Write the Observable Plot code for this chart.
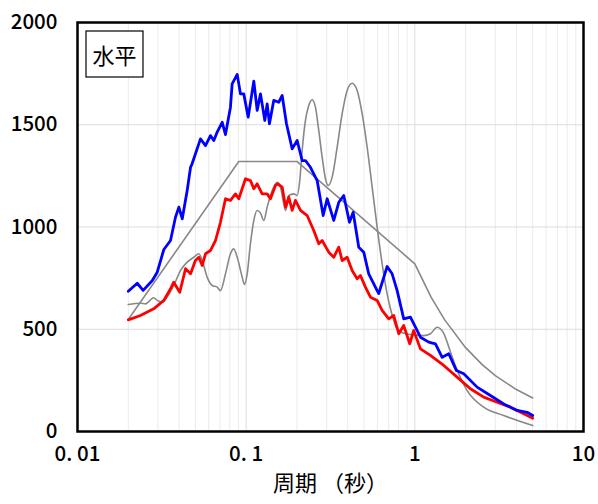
<!DOCTYPE html>
<html>
<head>
<meta charset="utf-8">
<script src="https://cdn.jsdelivr.net/npm/d3@7"></script>
<script src="https://cdn.jsdelivr.net/npm/@observablehq/plot@0.6"></script>
<style>
  body { margin: 0; background: #fff; }
  #chart { width: 598px; height: 504px; }
</style>
</head>
<body>
<div id="chart"></div>
<script>
// ---- data (period in seconds, acceleration) ----
const bluePeriod = [0.02,0.0226,0.0245,0.0277,0.0297,0.0325,0.0356,0.0381,0.0399,0.0418,0.0447,0.0468,0.0478,0.0536,0.0574,0.0614,0.0643,0.0673,0.0721,0.0754,0.0807,0.0826,0.0885,0.0925,0.0968,0.1028,0.111,0.1162,0.1216,0.129,0.1332,0.1374,0.1457,0.156,0.1635,0.1734,0.1874,0.2006,0.2148,0.2246,0.2405,0.2636,0.2861,0.3021,0.3306,0.354,0.3789,0.4096,0.4309,0.4651,0.4979,0.533,0.5977,0.611,0.6852,0.7335,0.7855,0.8596,0.9419,1.0795,1.209,1.325,1.452,1.589,1.765,1.95,2.34,2.806,3.365,4.04,4.63,5.0];
const blueValue = [686,725,690,737,779,890,934,1048,1097,1040,1178,1292,1309,1431,1398,1447,1423,1464,1512,1452,1586,1700,1746,1651,1651,1537,1713,1570,1651,1521,1602,1505,1619,1610,1643,1505,1382,1423,1325,1325,1292,1227,1056,1138,1032,1121,1154,1023,1072,901,877,771,689,675,807,771,689,551,559,461,437,429,363,380,298,282,217,176,135,103,94,78];

const redPeriod = [0.02,0.0236,0.0283,0.0325,0.0356,0.0372,0.0404,0.0437,0.0468,0.05,0.0524,0.0549,0.0574,0.0614,0.0658,0.0704,0.0754,0.0807,0.0864,0.0904,0.0991,0.106,0.111,0.1162,0.1244,0.1332,0.1393,0.1492,0.154,0.1635,0.1714,0.1789,0.1874,0.1959,0.21,0.23,0.2516,0.2694,0.2822,0.3087,0.3306,0.354,0.3708,0.397,0.4249,0.455,0.4759,0.5095,0.5456,0.5977,0.64,0.7,0.75,0.8029,0.8596,0.9329,0.985,1.0795,1.237,1.484,1.781,2.136,2.561,3.075,3.687,4.42,5.0];
const redValue = [546,567,600,641,698,730,681,796,771,836,852,812,869,885,934,1023,1138,1130,1162,1138,1236,1227,1187,1211,1162,1162,1138,1203,1211,1195,1097,1146,1081,1130,1081,1056,983,918,934,877,852,901,836,852,787,747,763,706,657,641,592,551,567,478,518,429,494,404,372,323,266,209,168,143,119,87,65];

const designPeriod = [0.02,0.0904,0.2006,1.0,1.25,1.5,2,2.5,3,4,5];
const designValue = [548,1320,1320,820,656,547,410,328,273,205,164];

const wavyPeriod = [0.02,0.0236,0.0253,0.0283,0.0297,0.0318,0.034,0.0372,0.0408,0.0447,0.0489,0.0524,0.0549,0.0587,0.0629,0.0673,0.0704,0.0754,0.0807,0.0844,0.0885,0.0947,0.0977,0.1014,0.106,0.111,0.1162,0.1216,0.1272,0.1332,0.1426,0.1527,0.1597,0.1714,0.1789,0.1915,0.2006,0.2078,0.2148,0.2246,0.235,0.2462,0.2575,0.2694,0.2822,0.2952,0.3063,0.3235,0.3463,0.3708,0.397,0.4249,0.455,0.4871,0.5216,0.5585,0.5977,0.64,0.6852,0.717,0.8029,0.9419,1.129,1.237,1.356,1.484,1.625,1.781,2.042,2.561,3.365,5.0];
const wavyValue = [621,627,624,654,641,632,657,714,787,828,852,869,836,755,714,706,689,771,869,893,852,755,719,771,918,1032,1081,1068,1032,1097,1178,1219,1195,1081,1154,1162,1154,1227,1374,1521,1594,1622,1586,1472,1341,1236,1203,1244,1390,1554,1668,1703,1668,1554,1390,1195,999,820,673,600,490,474,469,478,510,480,390,300,200,119,78,29];

const yTicks = [0, 500, 1000, 1500, 2000];
const xTicks = [0.01, 0.1, 1, 10];
const xTickLabels = ["0. 01", "0. 1", "1", "10"];
const minorX = [0.02,0.03,0.04,0.05,0.06,0.07,0.08,0.09,0.2,0.3,0.4,0.5,0.6,0.7,0.8,0.9,2,3,4,5,6,7,8,9];
const xTitle = "周期 （秒）";
const legendText = "水平";

const toRows = (P, V) => P.map((p, i) => ({period: p, value: V[i]}));
const blue = toRows(bluePeriod, blueValue);
const red = toRows(redPeriod, redValue);
const design = toRows(designPeriod, designValue);
const wavy = toRows(wavyPeriod, wavyValue);

const font = "'Noto Sans CJK JP', 'Noto Sans', sans-serif";

const chart = Plot.plot({
  width: 598,
  height: 504,
  marginLeft: 77,
  marginRight: 15,
  marginTop: 22,
  marginBottom: 73,
  style: {fontFamily: font, background: "#fff", overflow: "visible"},
  x: {type: "log", domain: [0.01, 10]},
  y: {domain: [0, 2000]},
  marks: [
    Plot.ruleX(minorX, {stroke: "#ebebeb", strokeWidth: 1}),
    Plot.ruleX(xTicks, {stroke: "#dcdcdc", strokeWidth: 1}),
    Plot.ruleY(yTicks, {stroke: "#dcdcdc", strokeWidth: 1}),
    Plot.line(design, {x: "period", y: "value", stroke: "#888888", strokeWidth: 1.6}),
    Plot.line(wavy, {x: "period", y: "value", stroke: "#888888", strokeWidth: 1.6, curve: "monotone-x"}),
    Plot.line(red, {x: "period", y: "value", stroke: "#ff0000", strokeWidth: 2.8}),
    Plot.line(blue, {x: "period", y: "value", stroke: "#0000ff", strokeWidth: 2.8}),
    Plot.frame({stroke: "#000", strokeWidth: 2.5}),
    Plot.axisY({ticks: yTicks, tickSize: 0, tickPadding: 20, fontSize: 20.5, fontWeight: 500, label: null, tickFormat: d => String(d)}),
    Plot.axisX({ticks: xTicks, tickSize: 0, tickPadding: 15, fontSize: 20.5, fontWeight: 500, label: null, tickFormat: d => xTickLabels[xTicks.indexOf(d)]}),
    Plot.text([xTitle], {frameAnchor: "bottom", dy: 59, fontSize: 22, fill: "#000"})
  ]
});

const svg = d3.select(chart);
svg.selectAll("text").attr("fill", "#000");
const g = svg.append("g");
g.append("rect").attr("x", 86).attr("y", 31).attr("width", 57).attr("height", 46)
  .attr("fill", "#fff").attr("stroke", "#000").attr("stroke-width", 1.2);
g.append("text").attr("x", 114.5).attr("y", 54).attr("text-anchor", "middle")
  .attr("dominant-baseline", "central").attr("font-size", 22).attr("font-family", font)
  .attr("fill", "#000").text(legendText);

document.getElementById("chart").appendChild(chart);
</script>
</body>
</html>
